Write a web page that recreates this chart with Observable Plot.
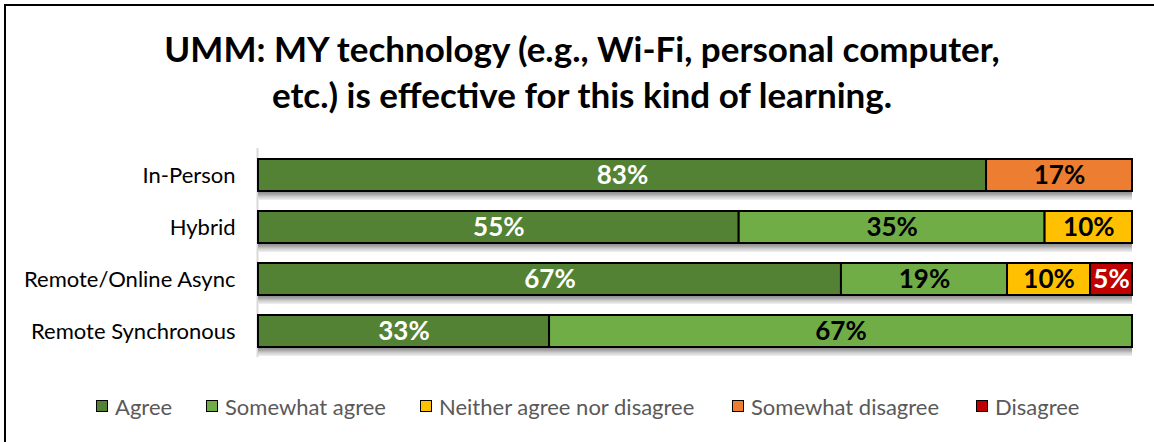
<!DOCTYPE html>
<html><head><meta charset="utf-8">
<script src="https://cdn.jsdelivr.net/npm/d3@7"></script>
<script src="https://cdn.jsdelivr.net/npm/@observablehq/plot@0.6"></script>
<style>
html,body{margin:0;padding:0;background:#fff;}
#frame{position:relative;width:1154px;height:442px;overflow:hidden;font-family:Lato,sans-serif;background:#fff;}
#border{position:absolute;left:4px;top:4px;right:-10px;bottom:-10px;border-left:2px solid #000;border-top:2px solid #000;}
#title{position:absolute;left:0;width:1164px;top:25px;text-align:center;font-weight:700;font-size:35px;line-height:46px;color:#000;}
#chart{position:absolute;left:0;top:140px;}
#legend{position:absolute;top:393px;left:0;width:1154px;height:26px;font-size:22px;color:#595959;}
.item{position:absolute;top:0;display:flex;align-items:center;white-space:nowrap;height:26px;}
.sw{width:10px;height:10px;border:1.5px solid #000;margin-right:7px;flex:none;}
</style></head>
<body>
<div id="frame">
  <div id="border"></div>
  <div id="title">UMM: MY technology (e.g., Wi-Fi, personal computer,<br>etc.) is effective for this kind of learning.</div>
  <div id="chart"></div>
  <div id="legend"></div>
</div>
<script>
const categories = ["In-Person", "Hybrid", "Remote/Online Async", "Remote Synchronous"];
const responses = ["Agree", "Somewhat agree", "Neither agree nor disagree", "Somewhat disagree", "Disagree"];
const colors = ["#548235", "#70AD47", "#FFC000", "#ED7D31", "#C00000"];
const agree = [83.3, 55, 66.7, 33.3];
const somewhatAgree = [0, 35, 19.0, 66.7];
const neither = [0, 10, 9.5, 0];
const somewhatDisagree = [16.7, 0, 0, 0];
const disagree = [0, 0, 4.8, 0];
const legendX = [96, 206, 420, 732, 976];

const series = [agree, somewhatAgree, neither, somewhatDisagree, disagree];
const data = [];
categories.forEach((c, i) => {
  let start = 0;
  responses.forEach((r, j) => {
    const v = series[j][i];
    if (v > 0) {
      data.push({category: c, response: r, value: v, start: start, end: start + v});
      start += v;
    }
  });
});
const whiteText = new Set(["Agree", "Disagree"]);
const label = d => Math.round(d.value) + "%";
const mid = d => (d.start + d.end) / 2;

const plot = Plot.plot({
  width: 1154,
  height: 220,
  marginLeft: 258,
  marginRight: 22,
  marginTop: 8,
  marginBottom: 3,
  style: {fontFamily: "Lato, sans-serif", background: "transparent"},
  x: {domain: [0, 100], axis: null},
  y: {domain: categories, paddingInner: 0.385, paddingOuter: 0.2, label: null},
  color: {domain: responses, range: colors},
  marks: [
    Plot.ruleX([0], {stroke: "#d9d9d9", strokeWidth: 2, dx: -1}),
    Plot.barX(categories, {x1: 0, x2: 100, y: d => d, dy: 9, fill: "url(#shadowGrad)"}),
    Plot.barX(data, {x1: "start", x2: "end", y: "category", fill: "response", stroke: "#000", strokeWidth: 2}),
    Plot.text(data.filter(d => whiteText.has(d.response)), {x: mid, y: "category", text: label, fill: "#fff", fontSize: 26, fontWeight: "bold"}),
    Plot.text(data.filter(d => !whiteText.has(d.response)), {x: mid, y: "category", text: label, fill: "#000", fontSize: 26, fontWeight: "bold"}),
    Plot.axisY({tickSize: 0, tickPadding: 23, fontSize: 22, fill: "#000", label: null})
  ]
});
const ns = "http://www.w3.org/2000/svg";
const defs = document.createElementNS(ns, "defs");
defs.innerHTML = `<linearGradient id="shadowGrad" x1="0" y1="0" x2="0" y2="1">
  <stop offset="0" stop-color="#8c8c8c"/>
  <stop offset="0.74" stop-color="#8c8c8c"/>
  <stop offset="0.82" stop-color="#a6a6a6"/>
  <stop offset="0.9" stop-color="#cfcfcf"/>
  <stop offset="1" stop-color="#f0f0f0"/>
</linearGradient>`;
plot.insertBefore(defs, plot.firstChild);
document.getElementById("chart").appendChild(plot);

const legend = document.getElementById("legend");
responses.forEach((r, j) => {
  const item = document.createElement("div");
  item.className = "item";
  item.style.left = legendX[j] + "px";
  const sw = document.createElement("span");
  sw.className = "sw";
  sw.style.background = colors[j];
  const t = document.createElement("span");
  t.textContent = r;
  item.appendChild(sw);
  item.appendChild(t);
  legend.appendChild(item);
});
</script>
</body></html>
